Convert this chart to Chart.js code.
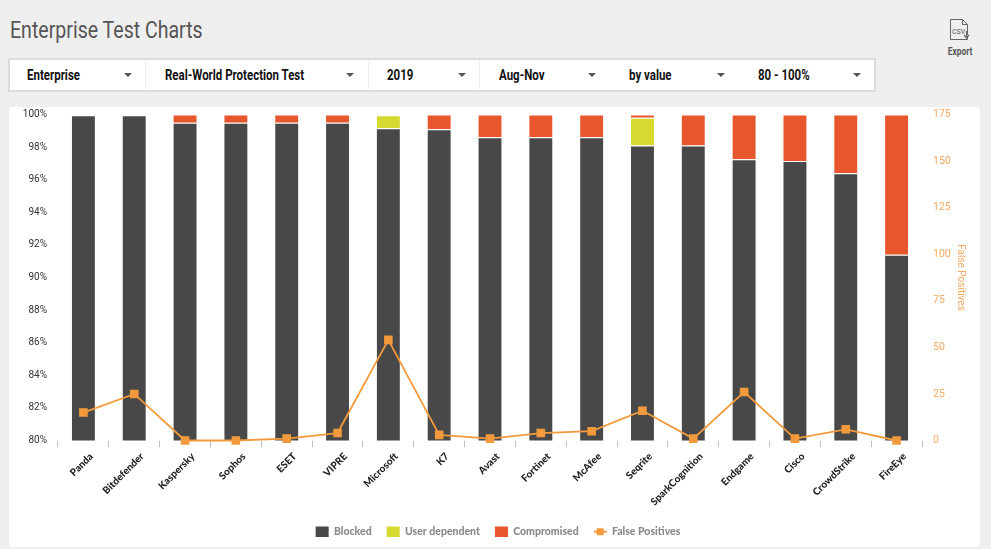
<!DOCTYPE html>
<html>
<head>
<meta charset="utf-8">
<script src="https://cdn.jsdelivr.net/npm/chart.js@4"></script>
<style>
  html, body { margin: 0; padding: 0; width: 991px; height: 549px; overflow: hidden; background: #efefef; font-family: Roboto, sans-serif; }
  #title { position: absolute; left: 10px; top: 17px; font-size: 23px; color: #555; white-space: nowrap; transform: scaleX(0.85); transform-origin: left top; }
  #filters { position: absolute; left: 8px; top: 58px; width: 864px; height: 30px; background: #fff; border: 2px solid #dcdcdc; }
  .item { position: absolute; top: 7px; font-size: 14px; font-weight: 700; color: #111; white-space: nowrap; transform: scaleX(0.82); transform-origin: left top; }
  .caret { position: absolute; top: 13px; width: 0; height: 0; border-left: 4px solid transparent; border-right: 4px solid transparent; border-top: 4px solid #555; }
  .sep { position: absolute; top: 1px; bottom: 1px; width: 1px; background: #eee; }
  #export { position: absolute; left: 940px; top: 18px; width: 40px; text-align: center; }
  #export span { display: block; font-size: 10.5px; font-weight: 700; color: #555; margin-top: -1px; transform: scaleX(0.8); }
  #card { position: absolute; left: 9px; top: 107px; width: 971px; height: 440px; background: #fff; border-radius: 4px; }
  canvas { display: block; }
</style>
</head>
<body>
<div id="title">Enterprise Test Charts</div>
<div id="filters"></div>
<div id="export">
  <svg width="24" height="24" viewBox="0 0 24 24" fill="none" stroke="#666" stroke-width="1">
    <path d="M2.5 1.5h12l5 5v15h-17z"/><path d="M14.5 1.5v5h5"/>
    <text x="4" y="16" font-size="7" font-family="Roboto" fill="#555" stroke="none">CSV</text>
    <path d="M18.5 13v6M16 17l2.5 3 2.5-3" stroke-width="1.2" fill="#fff"/>
  </svg>
  <span>Export</span>
</div>
<div id="card"><canvas id="chart" width="971" height="440"></canvas></div>
<script>
const categories = ['Panda', 'Bitdefender', 'Kaspersky', 'Sophos', 'ESET', 'VIPRE', 'Microsoft', 'K7', 'Avast', 'Fortinet', 'McAfee', 'Seqrite', 'SparkCognition', 'Endgame', 'Cisco', 'CrowdStrike', 'FireEye'];
const blocked = [99.95, 99.95, 99.5, 99.5, 99.5, 99.5, 99.15, 99.1, 98.6, 98.6, 98.6, 98.1, 98.1, 97.25, 97.15, 96.4, 91.4];
// null where the segment is absent, a zero height bar would still draw its border
const userDependent = [null, null, null, null, null, null, 0.8, null, null, null, null, 1.7, null, null, null, null, null];
const compromised = [null, null, 0.5, 0.5, 0.5, 0.5, null, 0.9, 1.4, 1.4, 1.4, 0.2, 1.9, 2.75, 2.85, 3.6, 8.6];
const falsePositives = [15, 25, 0, 0, 1, 4, 54, 3, 1, 4, 5, 16, 1, 26, 1, 6, 0];
const filterLabels = ['Enterprise', 'Real-World Protection Test', '2019', 'Aug-Nov', 'by value', '80 - 100%'];

// filter bar positions, left of text and of the caret
const textLeft = [17, 155, 377, 489, 619, 748];
const caretLeft = [114, 336, 448, 578, 707, 843];
const sepLeft = [135, 358, 469];
const bar = document.getElementById('filters');
filterLabels.forEach((label, i) => {
  const t = document.createElement('div');
  t.className = 'item';
  t.style.left = textLeft[i] + 'px';
  t.textContent = label;
  bar.appendChild(t);
  const c = document.createElement('div');
  c.className = 'caret';
  c.style.left = caretLeft[i] + 'px';
  bar.appendChild(c);
});
sepLeft.forEach(x => {
  const s = document.createElement('div');
  s.className = 'sep';
  s.style.left = x + 'px';
  bar.appendChild(s);
});

// legend symbol for the line series: a short line with a square on it
const lineSymbol = document.createElement('canvas');
lineSymbol.width = 13;
lineSymbol.height = 9;
const sym = lineSymbol.getContext('2d');
sym.fillStyle = '#f39a3c';
sym.fillRect(0, 3.5, 13, 2);
sym.fillRect(3, 1, 7, 7);

const fontLabel = "'Lato', sans-serif";

new Chart(document.getElementById('chart'), {
  data: {
    labels: categories,
    datasets: [
      { type: 'line', label: 'False Positives', data: falsePositives, yAxisID: 'y2', order: 0,
        borderColor: '#f39a3c', backgroundColor: '#f39a3c', borderWidth: 1.8, tension: 0,
        pointStyle: 'rect', pointRadius: 4.8, pointHoverRadius: 4.8, clip: false },
      { type: 'bar', label: 'Blocked', data: blocked, backgroundColor: '#484848', stack: 's', order: 1 },
      { type: 'bar', label: 'User dependent', data: userDependent, backgroundColor: '#d6d92f', stack: 's', order: 1 },
      { type: 'bar', label: 'Compromised', data: compromised, backgroundColor: '#e8562d', stack: 's', order: 1 }
    ]
  },
  options: {
    responsive: false,
    animation: false,
    layout: { padding: { left: 7, top: 7.5, bottom: 0 } },
    datasets: { bar: { categoryPercentage: 1, barPercentage: 0.49, borderWidth: 1, borderColor: '#ffffff' } },
    plugins: {
      tooltip: { enabled: false },
      legend: {
        position: 'bottom',
        labels: {
          font: { family: fontLabel, size: 10.5, weight: '900' },
          color: '#8a8a8a',
          boxWidth: 13,
          boxHeight: 12,
          padding: 15,
          // bars first, line last, as in the reference
          generateLabels(chart) {
            const items = chart.data.datasets.map((d, i) => ({
              text: d.label,
              fillStyle: d.backgroundColor,
              strokeStyle: d.backgroundColor,
              lineWidth: 0,
              datasetIndex: i,
              pointStyle: d.type === 'line' ? lineSymbol : 'rect',
              fontColor: '#8a8a8a'
            }));
            items.push(items.shift());
            return items;
          },
          usePointStyle: true,
          pointStyleWidth: 13
        }
      }
    },
    scales: {
      x: {
        stacked: true,
        offset: true,
        border: { display: false },
        grid: { drawOnChartArea: false, drawTicks: true, tickLength: 7, color: '#c0c0c0', lineWidth: 1, offset: true },
        ticks: { maxRotation: 45, minRotation: 45, autoSkip: false, padding: 3, labelOffset: 8, color: '#222',
          font: { family: fontLabel, size: 10, weight: '900' } },
        afterFit(scale) { scale.height = 71; scale.paddingLeft = 0; scale.paddingRight = 0; }
      },
      y: {
        stacked: true,
        position: 'left',
        min: 80,
        max: 100,
        border: { display: false },
        grid: { display: false },
        ticks: { stepSize: 2, padding: 3, color: '#333', font: { family: 'Roboto', size: 10 }, callback: v => v + '%' },
        afterFit(scale) { scale.width = 42; scale.paddingTop = 0; scale.paddingBottom = 0; }
      },
      y2: {
        position: 'right',
        min: 0,
        max: 175,
        border: { display: false },
        grid: { display: false },
        ticks: { stepSize: 25, padding: 3, color: '#f5a95f', font: { family: 'Roboto', size: 10.5 } },
        title: { display: true, text: 'False Positives', color: '#f5a95f', font: { family: 'Roboto', size: 10 }, padding: { top: 14, bottom: 0 } },
        afterFit(scale) { scale.width = 58; scale.paddingTop = 0; scale.paddingBottom = 0; }
      }
    }
  }
});
</script>
</body>
</html>
